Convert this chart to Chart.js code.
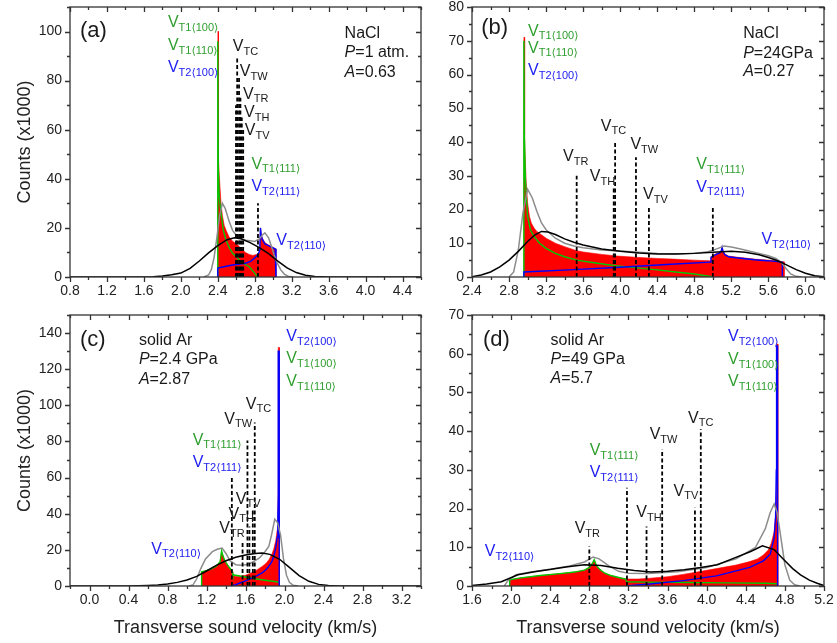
<!DOCTYPE html>
<html><head><meta charset="utf-8">
<script src="https://cdn.jsdelivr.net/npm/chart.js@4/dist/chart.umd.min.js"></script>
<style>
html,body{margin:0;padding:0;background:#fff;}
#wrap{position:relative;width:837px;height:643px;overflow:hidden;background:#fff;}
canvas{position:absolute;}
</style></head><body>
<div id="wrap">
<canvas id="ca" width="430" height="305" style="left:0;top:0"></canvas>
<canvas id="cb" width="407" height="305" style="left:430px;top:0"></canvas>
<canvas id="cc" width="430" height="338" style="left:0;top:305px"></canvas>
<canvas id="cd" width="407" height="338" style="left:430px;top:305px"></canvas>
</div>
<script>
// ---------- Panel (a): NaCl, P = 1 atm ----------
const aXTicks = [0.8,1.2,1.6,2.0,2.4,2.8,3.2,3.6,4.0,4.4];
const aYTicks = [0,20,40,60,80,100];
const aRedX = [2.40,2.40,2.408,2.408,2.415,2.425,2.435,2.45,2.47,2.49,2.52,2.56,2.60,2.63,2.67,2.70,2.74,2.78,2.82,2.85,2.855,2.862,2.868,2.88,2.91,2.95,2.98,3.02,3.03,3.03];
const aRedY = [0,100,100,48,42,36,30,25,21,19,16.5,14.6,13.5,12.5,11,10,9.2,8.8,9.2,9.8,10.5,20,18,16,14,13,12.5,11.5,11.5,0];
const aGreenX = [2.40,2.40,2.405,2.415,2.435,2.46,2.49,2.53,2.56,2.60,2.63,2.68,2.74,2.79,2.83];
const aGreenY = [0,96,45,33,26,19,15,11.5,9.7,8.2,7,5.5,4.2,2,0];
const aBlueX = [2.40,2.40,2.48,2.56,2.64,2.70,2.76,2.81,2.84,2.855,2.862,2.87,2.88,2.91,2.95,2.98,3.02,3.03,3.03];
const aBlueY = [0,3.6,4.3,4.9,5.3,5.6,6.5,8.1,9.5,11,20,17,15.5,13.5,12.8,12.2,11.5,11.2,0];
const aGrayX = [2.25,2.30,2.33,2.36,2.39,2.42,2.45,2.48,2.52,2.56,2.60,2.64,2.70,2.75,2.80,2.85,2.88,2.91,2.95,2.98,3.01,3.04,3.08,3.12,3.16,3.22];
const aGrayY = [0,0.8,3,8,16,25,30,28,23,19,17,16,15,14.8,14.5,15.5,17,18,16,12.5,9,6,3,1.2,0.3,0];
const aBlackX = [0.8,1.60,1.70,1.80,1.90,2.00,2.10,2.20,2.30,2.40,2.50,2.58,2.65,2.75,2.85,2.95,3.05,3.15,3.25,3.35,3.45,3.60,4.60];
const aBlackY = [0,0,0.1,0.4,0.9,1.6,3.5,6.5,9.8,12.8,15.2,16,15.6,14,12,9.5,6.5,3.7,1.8,0.7,0.2,0,0];
const aMarkV = [2.597,2.61,2.63,2.645,2.66,2.675,2.835];
const aMarkTop = [70,90,82,73,65,60,30];

// ---------- Panel (b): NaCl, P = 24 GPa ----------
const bXTicks = [2.4,2.8,3.2,3.6,4.0,4.4,4.8,5.2,5.6,6.0];
const bYTicks = [0,10,20,30,40,50,60,70,80];
const bRedX = [2.96,2.96,2.968,2.968,2.975,2.985,3.00,3.02,3.04,3.07,3.10,3.15,3.20,3.30,3.40,3.53,3.60,3.80,3.97,4.20,4.40,4.57,4.80,4.97,4.98,5.03,5.07,5.09,5.10,5.11,5.13,5.17,5.25,5.35,5.45,5.55,5.65,5.76,5.77,5.77];
const bRedY = [0,71,71,42,35,28,22,18,16,14.5,13.5,12.5,11.5,10,9,7.8,7.4,6.7,6.2,5.8,5.5,5.3,5.0,4.8,6.0,6.8,7.3,7.8,9.0,7.8,6.8,6.2,5.9,5.6,5.3,5.1,4.9,4.5,4.5,0];
const bGreenX = [2.96,2.96,2.965,2.975,2.99,3.00,3.03,3.07,3.13,3.20,3.30,3.40,3.53,3.70,3.85,3.97,4.18,4.40,4.60,4.80,4.99];
const bGreenY = [0,70,42,30,22,18,14,12,10,8.5,7,6,5,4.3,3.7,3.3,2.7,2.1,1.5,0.9,0.1];
const bBlueX = [2.96,2.96,3.50,4.00,4.50,4.97,4.98,5.03,5.07,5.09,5.10,5.11,5.13,5.17,5.25,5.35,5.45,5.55,5.65,5.74,5.75,5.75];
const bBlueY = [0,1.5,2.2,2.9,3.7,4.4,5.8,6.6,7.1,7.6,8.8,7.6,6.6,6.0,5.7,5.4,5.1,4.9,4.7,4.4,4.4,0];
const bGrayX = [2.80,2.85,2.90,2.95,3.00,3.05,3.10,3.15,3.20,3.30,3.40,3.50,3.60,3.80,4.00,4.20,4.40,4.60,4.80,4.95,5.05,5.12,5.20,5.30,5.40,5.50,5.60,5.68,5.74,5.79,5.84,5.90,5.96];
const bGrayY = [0,1.5,8,19,26,23.5,19.5,16,14,11.5,10,9.2,8.7,8.0,7.7,7.3,7.0,6.9,7.0,7.5,8.4,9.2,8.9,8.3,7.6,7.0,6.3,5.5,4.3,2.5,0.9,0.2,0];
const bBlackX = [2.40,2.50,2.60,2.70,2.80,2.90,3.00,3.08,3.15,3.22,3.30,3.40,3.50,3.60,3.80,4.00,4.20,4.40,4.60,4.80,5.00,5.20,5.35,5.50,5.60,5.70,5.80,5.90,6.00,6.10,6.20];
const bBlackY = [0.1,0.6,1.5,3,5,7.6,10.5,12.5,13.5,13.3,12.6,11.3,10.3,9.5,8.3,7.6,7.1,6.8,6.8,7.0,7.3,7.6,7.3,6.6,5.8,4.8,3.5,2.2,1.1,0.4,0.1];
const bMarkV = [3.53,3.93,3.945,4.17,4.31,5.00];
const bMarkTop = [30,27,40,35.5,20.5,20.5];

// ---------- Panel (c): solid Ar, P = 2.4 GPa ----------
const cXTicks = [0.0,0.4,0.8,1.2,1.6,2.0,2.4,2.8,3.2];
const cYTicks = [0,20,40,60,80,100,120,140];
const cRedX = [1.15,1.15,1.20,1.25,1.30,1.34,1.355,1.365,1.38,1.40,1.43,1.46,1.465,1.47,1.50,1.55,1.60,1.67,1.72,1.77,1.81,1.84,1.87,1.89,1.91,1.925,1.932,1.936,1.936,1.948,1.948];
const cRedY = [0,7.8,8.5,9.5,11,13.5,19,17.5,15,13,10.5,8.5,8,5.8,5.3,5.4,6,7.5,9,10.8,12.5,14.5,17.5,20.5,25,31,42,55,132,132,0];
const cGreenX = [1.15,1.15,1.20,1.25,1.30,1.34,1.355,1.365,1.38,1.40,1.43,1.46,1.465,1.47,1.60,1.70,1.80,1.90,1.945];
const cGreenY = [0,7.8,8.5,9.5,11,13.5,19.5,17.5,15,13,10.5,8.5,7.5,6.2,5.0,4.0,3.2,2.5,2.1];
const cBlueX = [1.46,1.50,1.55,1.60,1.67,1.72,1.77,1.81,1.84,1.87,1.89,1.91,1.925,1.932,1.936,1.936,1.946,1.946];
const cBlueY = [0,0.8,1.8,2.8,4.5,5.8,7.3,9,11,13.5,16.5,21,27,38,50,130,130,0];
const cGrayX = [1.02,1.06,1.10,1.14,1.19,1.26,1.31,1.36,1.40,1.44,1.50,1.56,1.60,1.66,1.74,1.80,1.84,1.87,1.90,1.93,1.96,1.99,2.02,2.05,2.09,2.14];
const cGrayY = [0,0.5,4,9.5,15,19,20.3,21,18,14,11.8,11.5,11.7,12.8,15.4,19,22,29,37,35,28,15,6,2,0.4,0];
const cBlackX = [-0.2,0.40,0.50,0.60,0.70,0.80,0.90,1.00,1.10,1.20,1.30,1.40,1.50,1.60,1.70,1.77,1.85,1.95,2.05,2.15,2.25,2.35,2.45,2.55,3.4];
const cBlackY = [0,0,0.1,0.3,0.6,1.1,2,3.3,5.3,8.3,11.4,14,15.9,17.1,18,18.3,17.5,14.8,10.3,5.8,2.6,0.9,0.25,0,0];
const cMarkV = [1.46,1.57,1.62,1.64,1.675,1.695];
const cMarkTop = [60.5,24.5,80.5,33,42,90.5];

// ---------- Panel (d): solid Ar, P = 49 GPa ----------
const dXTicks = [1.6,2.0,2.4,2.8,3.2,3.6,4.0,4.4,4.8,5.2];
const dYTicks = [0,10,20,30,40,50,60,70];
const dRedX = [1.985,1.985,2.10,2.30,2.50,2.65,2.75,2.80,2.83,2.85,2.865,2.88,2.92,2.96,3.02,3.10,3.18,3.30,3.42,3.60,3.76,3.90,4.10,4.30,4.44,4.52,4.58,4.63,4.66,4.69,4.705,4.715,4.715,4.728,4.728];
const dRedY = [0,1.6,2.1,2.7,3.2,3.6,4.1,4.8,5.8,6.8,5.8,5.0,4.0,3.3,2.7,2.2,1.8,1.8,2.0,2.4,3.0,3.6,4.5,5.4,6.3,7.0,8.0,9.3,11,14,18,25,62.5,62.5,0];
const dGreenX = [1.985,1.985,2.10,2.30,2.50,2.65,2.75,2.80,2.83,2.85,2.865,2.88,2.92,2.96,3.02,3.10,3.17,3.18,3.40,3.80,4.20,4.60,4.72];
const dGreenY = [0,1.6,2.1,2.7,3.2,3.6,4.1,4.8,5.8,6.8,5.8,5.0,4.0,3.3,2.7,2.2,1.8,1.1,1.0,0.9,0.8,0.7,0.6];
const dBlueX = [3.18,3.42,3.76,4.10,4.44,4.58,4.65,4.69,4.705,4.712,4.715,4.725,4.725];
const dBlueY = [0,0.5,1.4,2.6,4.8,6.5,8.2,12.5,18,30,62,62,0];
const dGrayX = [1.93,1.97,2.05,2.20,2.40,2.60,2.75,2.84,2.90,3.00,3.10,3.20,3.40,3.70,4.00,4.30,4.50,4.60,4.65,4.69,4.72,4.75,4.80,4.85,4.90,4.95];
const dGrayY = [0,1.5,2.9,3.6,4.3,5.2,6.2,7.5,7.0,5.2,3.8,3.3,3.2,3.7,4.8,7.0,10,14.8,19,21.2,19,14,5.5,1.5,0.3,0];
const dBlackX = [1.60,1.75,1.90,2.07,2.24,2.41,2.58,2.75,2.92,3.09,3.26,3.43,3.60,3.77,3.94,4.11,4.28,4.45,4.57,4.69,4.79,4.88,4.96,5.05,5.13,5.20];
const dBlackY = [0.1,0.5,1.1,2.9,3.7,4.3,5.0,5.5,5.3,4.6,4.0,3.6,3.8,4.2,4.8,5.5,7.2,8.9,10.4,9.4,6.8,4.5,2.9,1.5,0.7,0.1];
const dMarkV = [2.80,3.185,3.385,3.545,3.88,3.94];
const dMarkTop = [10.2,25.4,15.4,35.3,20.2,40.5];

// ---------- Text annotations (anchored in data coordinates) ----------
const K = '#1a1a1a', G = '#2e9e2e', B = '#2020f0';
const aNotes = [
  {x:0.908,y:100.4,p:[['(a)',22]]},
  {x:3.773,y:99.2,p:[['NaCl',16]]},
  {x:3.773,y:91.5,p:[['P',16,1],['=1 atm.',16]]},
  {x:3.773,y:83.3,p:[['A',16,1],['=0.63',16]]},
  {x:1.86,y:103.6,v:'T1⟨100⟩',c:G},{x:1.86,y:94.3,v:'T1⟨110⟩',c:G},{x:1.86,y:85.3,v:'T2⟨100⟩',c:B},
  {x:2.562,y:93.8,v:'TC'},{x:2.638,y:83.5,v:'TW'},{x:2.674,y:74.5,v:'TR'},{x:2.684,y:67,v:'TH'},{x:2.692,y:59.6,v:'TV'},
  {x:2.764,y:45.9,v:'T1⟨111⟩',c:G},{x:2.764,y:36.7,v:'T2⟨111⟩',c:B},{x:3.034,y:14.8,v:'T2⟨110⟩',c:B}
];
const bNotes = [
  {x:2.50,y:73.7,p:[['(b)',22]]},
  {x:5.327,y:72.2,p:[['NaCl',16]]},
  {x:5.327,y:66.3,p:[['P',16,1],['=24GPa',16]]},
  {x:5.327,y:60.8,p:[['A',16,1],['=0.27',16]]},
  {x:3.005,y:72.8,v:'T1⟨100⟩',c:G},{x:3.005,y:67.8,v:'T1⟨110⟩',c:G},{x:3.005,y:61.1,v:'T2⟨100⟩',c:B},
  {x:3.79,y:44.7,v:'TC'},{x:4.11,y:39.1,v:'TW'},{x:3.383,y:35.6,v:'TR'},{x:3.671,y:29.7,v:'TH'},{x:4.247,y:24.3,v:'TV'},
  {x:4.822,y:33.2,v:'T1⟨111⟩',c:G},{x:4.822,y:26.6,v:'T2⟨111⟩',c:B},{x:5.524,y:11,v:'T2⟨110⟩',c:B}
];
const cNotes = [
  {x:-0.098,y:136.3,p:[['(c)',22]]},
  {x:0.507,y:135.7,p:[['solid Ar',16]]},
  {x:0.507,y:125.2,p:[['P',16,1],['=2.4 GPa',16]]},
  {x:0.507,y:114.4,p:[['A',16,1],['=2.87',16]]},
  {x:2.018,y:138.1,v:'T2⟨100⟩',c:B},{x:2.018,y:125.6,v:'T1⟨100⟩',c:G},{x:2.018,y:113,v:'T1⟨110⟩',c:G},
  {x:1.603,y:100.6,v:'TC'},{x:1.382,y:92.2,v:'TW'},
  {x:1.058,y:80.7,v:'T1⟨111⟩',c:G},{x:1.058,y:68.1,v:'T2⟨111⟩',c:B},
  {x:1.501,y:48.1,v:'TV'},{x:1.426,y:39.8,v:'TH'},{x:1.331,y:31.5,v:'TR'},{x:0.634,y:20.4,v:'T2⟨110⟩',c:B}
];
const dNotes = [
  {x:1.712,y:63.5,p:[['(d)',22]]},
  {x:2.404,y:63.5,p:[['solid Ar',16]]},
  {x:2.404,y:58.5,p:[['P',16,1],['=49 GPa',16]]},
  {x:2.404,y:53.5,p:[['A',16,1],['=5.7',16]]},
  {x:4.218,y:64.3,v:'T2⟨100⟩',c:B},{x:4.218,y:58.5,v:'T1⟨100⟩',c:G},{x:4.218,y:52.8,v:'T1⟨110⟩',c:G},
  {x:3.809,y:43.3,v:'TC'},{x:3.417,y:39,v:'TW'},
  {x:2.803,y:34.9,v:'T1⟨111⟩',c:G},{x:2.803,y:29.3,v:'T2⟨111⟩',c:B},
  {x:3.662,y:24.5,v:'TV'},{x:3.28,y:18.9,v:'TH'},{x:2.65,y:14.7,v:'TR'},{x:1.73,y:8.9,v:'T2⟨110⟩',c:B}
];

const FAM = "'Liberation Sans', Arial, 'DejaVu Sans', sans-serif";
Chart.defaults.font.family = FAM;
Chart.defaults.color = '#222';

function pts(xs, ys){ return xs.map((x,i)=>({x:x, y:ys[i]})); }

const framePlugin = {
  id:'frame',
  afterDraw(chart, args, o){
    const ctx = chart.ctx, a = chart.chartArea, sx = chart.scales.x, sy = chart.scales.y;
    ctx.save();
    ctx.strokeStyle = '#333'; ctx.lineWidth = 1.3;
    const hx = o.xStep/2, hy = o.yStep/2;
    ctx.beginPath();
    for (let k = Math.ceil(sx.min/hx - 1e-6); k*hx <= sx.max + 1e-6; k++){
      const v = k*hx, p = Math.round(sx.getPixelForValue(v)) + 0.5;
      const major = Math.abs(Math.round(v/o.xStep)*o.xStep - v) < 1e-6;
      const L = major ? 5 : 3;
      ctx.moveTo(p, a.bottom); ctx.lineTo(p, a.bottom + L);
      ctx.moveTo(p, a.top); ctx.lineTo(p, a.top + L);
    }
    for (let k = Math.ceil(sy.min/hy - 1e-6); k*hy <= sy.max + 1e-6; k++){
      const v = k*hy, p = Math.round(sy.getPixelForValue(v)) + 0.5;
      const major = Math.abs(Math.round(v/o.yStep)*o.yStep - v) < 1e-6;
      const L = major ? 5 : 3;
      ctx.moveTo(a.left, p); ctx.lineTo(a.left - L, p);
      ctx.moveTo(a.right, p); ctx.lineTo(a.right - L, p);
    }
    ctx.stroke();
    ctx.strokeRect(a.left, a.top, a.right - a.left, a.bottom - a.top);
    ctx.restore();
  }
};

const notesPlugin = {
  id:'notes',
  afterDraw(chart, args, o){
    const ctx = chart.ctx, sx = chart.scales.x, sy = chart.scales.y;
    ctx.save();
    ctx.textBaseline = 'middle'; ctx.textAlign = 'left';
    for (const it of o.items){
      let px = sx.getPixelForValue(it.x), py = sy.getPixelForValue(it.y);
      const parts = it.p ? it.p.map(q=>({t:q[0], s:q[1], i:q[2], dy:0, c:K}))
                         : [{t:'V', s:16, dy:0, c:it.c||K}, {t:it.v, s:11, dy:5, c:it.c||K}];
      for (const q of parts){
        ctx.font = (q.i ? 'italic ' : '') + q.s + 'px ' + FAM;
        ctx.fillStyle = q.c;
        ctx.fillText(q.t, px, py + q.dy);
        px += ctx.measureText(q.t).width;
      }
    }
    ctx.restore();
  }
};

function makeChart(id, c){
  const ds = [];
  ds.push({data:pts(c.redX,c.redY), showLine:true, fill:'origin', backgroundColor:'#ff0000', borderColor:'#ff0000', borderWidth:0.6, order:10});
  ds.push({data:pts(c.greenX,c.greenY), showLine:true, fill:false, borderColor:'#00c800', borderWidth:1.4, order:6});
  ds.push({data:pts(c.blueX,c.blueY), showLine:true, fill:false, borderColor:'#0000ff', borderWidth:1.4, order:5});
  ds.push({data:pts(c.grayX,c.grayY), showLine:true, fill:false, borderColor:'#8c8c8c', borderWidth:1.5, order:4});
  ds.push({data:pts(c.blackX,c.blackY), showLine:true, fill:false, borderColor:'#000000', borderWidth:1.5, order:3});
  c.markV.forEach((v,i)=>{
    ds.push({data:[{x:v,y:0},{x:v,y:c.markTop[i]}], showLine:true, fill:false, borderColor:'#000', borderWidth:1.8, borderDash:[4,2.5], order:1});
  });
  const xt = c.xTicks, yt = c.yTicks;
  return new Chart(document.getElementById(id), {
    type:'scatter',
    data:{datasets:ds},
    options:{
      responsive:false, animation:false, devicePixelRatio:1,
      layout:{padding:c.pad},
      elements:{point:{radius:0, hoverRadius:0}, line:{tension:0}},
      plugins:{legend:{display:false}, tooltip:{enabled:false},
        frame:{xStep:c.xStep, yStep:c.yStep}, notes:{items:c.notes}},
      scales:{
        x:{type:'linear', min:c.xMin, max:c.xMax,
          afterBuildTicks:s=>{ s.ticks = xt.map(v=>({value:v})); },
          afterFit:s=>{ s.height = c.xh; s.paddingLeft = 0; s.paddingRight = 0; },
          grid:{display:false, drawTicks:false}, border:{display:false},
          ticks:{padding:6, font:{size:14}, color:'#222', maxRotation:0, autoSkip:false, callback:v=>Number(v).toFixed(1)},
          title: c.xTitle ? {display:true, text:'Transverse sound velocity (km/s)', font:{size:18}, color:'#222', padding:{top:0,bottom:4}} : {display:false}
        },
        y:{type:'linear', min:c.yMin, max:c.yMax,
          afterBuildTicks:s=>{ s.ticks = yt.map(v=>({value:v})); },
          afterFit:s=>{ s.width = c.yw; s.paddingTop = 0; s.paddingBottom = 0; },
          grid:{display:false, drawTicks:false}, border:{display:false},
          ticks:{padding:8, font:{size:14}, color:'#222', autoSkip:false, callback:v=>String(v)},
          title: c.yTitle ? {display:true, text:'Counts (x1000)', font:{size:18}, color:'#222', padding:{top:14,bottom:0}} : {display:false}
        }
      }
    },
    plugins:[framePlugin, notesPlugin]
  });
}

makeChart('ca', {redX:aRedX,redY:aRedY,greenX:aGreenX,greenY:aGreenY,blueX:aBlueX,blueY:aBlueY,grayX:aGrayX,grayY:aGrayY,blackX:aBlackX,blackY:aBlackY,markV:aMarkV,markTop:aMarkTop,
  xTicks:aXTicks,yTicks:aYTicks,xMin:0.8,xMax:4.6,yMin:0,yMax:110,xStep:0.4,yStep:20,notes:aNotes,
  pad:{left:0,top:7,right:9,bottom:0}, xh:28, yw:70, yTitle:true, xTitle:false});
makeChart('cb', {redX:bRedX,redY:bRedY,greenX:bGreenX,greenY:bGreenY,blueX:bBlueX,blueY:bBlueY,grayX:bGrayX,grayY:bGrayY,blackX:bBlackX,blackY:bBlackY,markV:bMarkV,markTop:bMarkTop,
  xTicks:bXTicks,yTicks:bYTicks,xMin:2.4,xMax:6.2,yMin:0,yMax:80,xStep:0.4,yStep:10,notes:bNotes,
  pad:{left:0,top:7,right:13,bottom:0}, xh:28, yw:42, yTitle:false, xTitle:false});
makeChart('cc', {redX:cRedX,redY:cRedY,greenX:cGreenX,greenY:cGreenY,blueX:cBlueX,blueY:cBlueY,grayX:cGrayX,grayY:cGrayY,blackX:cBlackX,blackY:cBlackY,markV:cMarkV,markTop:cMarkTop,
  xTicks:cXTicks,yTicks:cYTicks,xMin:-0.2,xMax:3.4,yMin:0,yMax:150,xStep:0.4,yStep:20,notes:cNotes,
  pad:{left:0,top:10,right:9,bottom:0}, xh:57, yw:70, yTitle:true, xTitle:true});
makeChart('cd', {redX:dRedX,redY:dRedY,greenX:dGreenX,greenY:dGreenY,blueX:dBlueX,blueY:dBlueY,grayX:dGrayX,grayY:dGrayY,blackX:dBlackX,blackY:dBlackY,markV:dMarkV,markTop:dMarkTop,
  xTicks:dXTicks,yTicks:dYTicks,xMin:1.6,xMax:5.2,yMin:0,yMax:70,xStep:0.4,yStep:10,notes:dNotes,
  pad:{left:0,top:10,right:13,bottom:0}, xh:57, yw:42, yTitle:false, xTitle:true});
</script>
</body></html>
